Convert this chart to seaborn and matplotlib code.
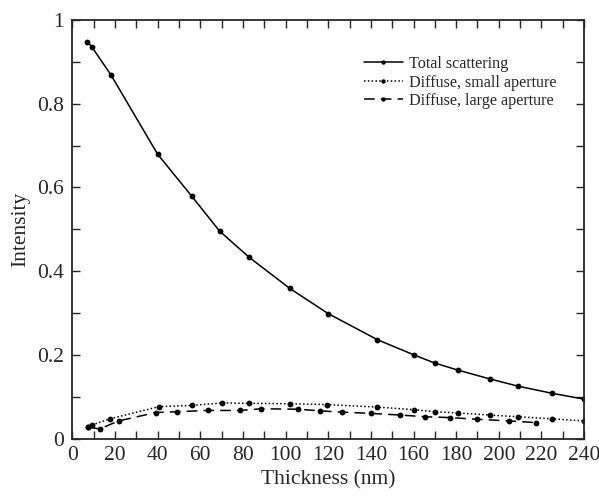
import numpy as np
import matplotlib
matplotlib.use("Agg")
import matplotlib.pyplot as plt
from matplotlib.ticker import MultipleLocator, FormatStrFormatter
import seaborn as sns

# values
total_x = [7, 9, 18, 40, 56, 69, 83, 102, 120, 143, 160, 170, 181, 196, 209, 225, 240]
total_y = [0.948, 0.936, 0.869, 0.679, 0.579, 0.496, 0.433, 0.359, 0.299, 0.237,
           0.201, 0.181, 0.164, 0.143, 0.126, 0.109, 0.095]

small_x = [7.5, 9, 17.5, 40.5, 56, 70, 83, 102, 119.5, 143, 160, 170, 181, 196, 209, 225, 240]
small_y = [0.029, 0.033, 0.048, 0.077, 0.080, 0.086, 0.085, 0.084, 0.082, 0.076,
           0.070, 0.065, 0.062, 0.057, 0.053, 0.048, 0.043]

large_x = [7.5, 12.7, 21.7, 39, 49, 63.4, 78.8, 88.6, 106, 116.3, 126.4, 140.2,
           153.8, 165.6, 177, 189.7, 205, 217.6]
large_y = [0.028, 0.024, 0.043, 0.063, 0.065, 0.068, 0.068, 0.072, 0.071, 0.067,
           0.064, 0.061, 0.057, 0.053, 0.051, 0.047, 0.043, 0.039]

sns.set_style("ticks")
plt.rcParams["font.family"] = ["Liberation Serif", "DejaVu Serif"]

fig = plt.figure(figsize=(5.99, 4.96), dpi=100)
ax = fig.add_axes([0.121, 0.115, 0.854, 0.845])

style = dict(color="black", marker="o", markersize=4.2, markeredgewidth=0, linewidth=1.1, ax=ax)
sns.lineplot(x=total_x, y=total_y, label="Total scattering", **style)
sns.lineplot(x=small_x, y=small_y, label="Diffuse, small aperture", linestyle=(0, (1, 1.5)), **style)
sns.lineplot(x=large_x, y=large_y, label="Diffuse, large aperture", linestyle=(0, (7, 4)), **style)

ax.set_xlim(0, 240)
ax.set_ylim(0, 1)
ax.xaxis.set_major_locator(MultipleLocator(20))
ax.xaxis.set_minor_locator(MultipleLocator(10))
ax.yaxis.set_major_locator(MultipleLocator(0.2))
ax.yaxis.set_minor_locator(MultipleLocator(0.1))
ax.yaxis.set_major_formatter(FormatStrFormatter("%g"))
ax.tick_params(which="both", direction="in", top=True, right=True, length=5.5, width=1.0,
               labelsize=15.5)
ax.tick_params(axis="x", pad=5)
ax.tick_params(axis="y", pad=6)
for s in ax.spines.values():
    s.set_linewidth(1.3)

ax.set_xlabel("Thickness (nm)", fontsize=15.5, labelpad=4)
ax.set_ylabel("Intensity", fontsize=15.5, labelpad=5)

leg = ax.legend(loc="upper right", bbox_to_anchor=(0.975, 0.948), frameon=False, fontsize=11.6,
                handlelength=2.4, handletextpad=0.4, labelspacing=0.15, markerscale=0.75)

fig.savefig("out.png", dpi=100)
